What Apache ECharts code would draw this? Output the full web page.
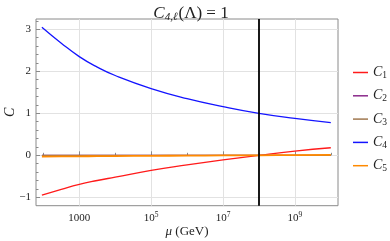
<!DOCTYPE html>
<html><head><meta charset="utf-8">
<script src="https://cdn.jsdelivr.net/npm/echarts@6/dist/echarts.min.js"></script>
<style>html,body{margin:0;padding:0;background:#fff}#c{width:390px;height:241px}</style>
</head><body><div id="c"></div>
<script>
// x values are log10(mu / GeV)
const muExp = [1.96, 2.5, 3, 3.5, 4, 5, 6, 7, 8, 9, 10];
const C1 = [-0.95, -0.81, -0.69, -0.60, -0.52, -0.36, -0.23, -0.11, 0.0, 0.10, 0.18];
const C2 = [0.0, 0.0, 0.0, 0.0, 0.0, 0.0, 0.0, 0.0, 0.0, 0.0, 0.0];
const C3 = [0.0, 0.0, 0.0, 0.0, 0.0, 0.0, 0.0, 0.0, 0.0, 0.0, 0.0];
const C4 = [3.05, 2.67, 2.35, 2.10, 1.90, 1.59, 1.35, 1.16, 1.0, 0.88, 0.78];
const C5 = [-0.03, -0.027, -0.024, -0.021, -0.018, -0.013, -0.008, -0.004, 0.0, 0.004, 0.008];
const seriesNames = ['C1', 'C2', 'C3', 'C4', 'C5'];
const seriesColors = ['#ff1a1a', '#8b2a8b', '#a07850', '#1414ff', '#ff8a00'];
const xMajor = [3, 5, 7, 9];
const xMinor = [2, 4, 6, 8, 10];
const yMajor = [-1, 0, 1, 2, 3];
const yMinor = [-0.8, -0.6, -0.4, -0.2, 0.2, 0.4, 0.6, 0.8, 1.2, 1.4, 1.6, 1.8, 2.2, 2.4, 2.6, 2.8, 3.2];
const matchScale = 8; // log10 of the matching scale (vertical line)

const FONT = 'Liberation Serif';
const XMIN = 1.796, XMAX = 10.2, YMIN = -1.2, YMAX = 3.245;
const allData = [C1, C2, C3, C4, C5];

const chart = echarts.init(document.getElementById('c'), null, {renderer: 'canvas'});
const series = seriesNames.map((n, i) => ({
  name: n, type: 'line', smooth: true, showSymbol: false, symbol: 'none',
  xAxisIndex: 0, yAxisIndex: 0,
  color: seriesColors[i],
  lineStyle: {color: seriesColors[i], width: i === 4 ? 1.8 : 1.3},
  z: i === 4 ? 3 : 2,
  data: muExp.map((x, k) => [x, allData[i][k]])
}));
series[0].markLine = {
  silent: true, symbol: 'none', label: {show: false}, z: 5,
  lineStyle: {color: '#000', width: 1.8, type: 'solid'},
  data: [{xAxis: matchScale}]
};

const axCommonX = {type: 'value', min: XMIN, max: XMAX, position: 'bottom'};
const axCommonY = {type: 'value', min: YMIN, max: YMAX, position: 'left'};
const T = {fontFamily: FONT, color: '#222', fontWeight: 'normal'};

chart.setOption({
  animation: false,
  backgroundColor: '#fff',
  title: {
    text: '{i|C}{s|4,ℓ}{n|(Λ) = 1}',
    left: 186, top: 0, textAlign: 'center',
    textStyle: {
      fontWeight: 'normal', fontFamily: FONT,
      rich: {
        i: Object.assign({}, T, {fontStyle: 'italic', fontSize: 17, lineHeight: 18}),
        s: Object.assign({}, T, {fontStyle: 'italic', fontSize: 11, lineHeight: 18, padding: [7, 1, 0, 0]}),
        n: Object.assign({}, T, {fontSize: 17, lineHeight: 18})
      }
    }
  },
  grid: {left: 36, right: 52, top: 19, bottom: 35.3, show: true, borderColor: '#8a8a8a', borderWidth: 1,
    containLabel: false, outerBoundsMode: 'none'},
  legend: {
    orient: 'vertical', left: 348, top: 59.5, itemWidth: 15, itemHeight: 1.5, itemGap: 7.3,
    icon: 'rect', data: seriesNames,
    formatter: n => '{c|C}{s|' + n.slice(1) + '}',
    textStyle: {
      rich: {
        c: Object.assign({}, T, {fontStyle: 'italic', fontSize: 14, lineHeight: 16}),
        s: Object.assign({}, T, {fontSize: 9.5, lineHeight: 16, padding: [6, 0, 0, 0]})
      }
    }
  },
  xAxis: [
    Object.assign({}, axCommonX, {
      name: '{m|μ} {g|(GeV)}', nameLocation: 'middle', nameGap: 19, nameMoveOverlap: false,
      nameTextStyle: {rich: {
        m: Object.assign({}, T, {fontStyle: 'italic', fontSize: 13}),
        g: Object.assign({}, T, {fontSize: 13})
      }},
      axisLine: {show: false},
      axisTick: {show: true, inside: true, length: 4, customValues: xMajor, lineStyle: {color: '#8a8a8a'}},
      axisLabel: {customValues: xMajor, margin: 5, color: '#222', fontFamily: FONT, fontSize: 11,
        formatter: v => v === 3 ? '{b|1000}' : '{b|10}{p|' + v + '}',
        rich: {
          b: Object.assign({}, T, {fontSize: 11, lineHeight: 14}),
          p: Object.assign({}, T, {fontSize: 7.5, lineHeight: 14, padding: [0, 0, 6, 0]})
        }},
      splitLine: {show: true, lineStyle: {color: '#e2e2e2', width: 1}}
    }),
    Object.assign({}, axCommonX, {
      axisLine: {show: false},
      axisTick: {show: true, inside: true, length: 2.5, customValues: xMinor, lineStyle: {color: '#8a8a8a'}},
      axisLabel: {show: false, customValues: xMinor},
      splitLine: {show: false}
    })
  ],
  yAxis: [
    Object.assign({}, axCommonY, {
      name: 'C', nameLocation: 'middle', nameGap: 19, nameRotate: 90, nameMoveOverlap: false,
      nameTextStyle: Object.assign({}, T, {fontStyle: 'italic', fontSize: 14}),
      axisLine: {show: false},
      axisTick: {show: true, inside: true, length: 4, customValues: yMajor, lineStyle: {color: '#8a8a8a'}},
      axisLabel: {customValues: yMajor, margin: 5, color: '#222', fontFamily: FONT, fontSize: 11,
        formatter: v => v < 0 ? '\u2212' + Math.abs(v) : String(v)},
      splitLine: {show: true, lineStyle: {color: '#e2e2e2', width: 1}}
    }),
    Object.assign({}, axCommonY, {
      axisLine: {show: false},
      axisTick: {show: true, inside: true, length: 2.5, customValues: yMinor, lineStyle: {color: '#8a8a8a'}},
      axisLabel: {show: false, customValues: yMinor},
      splitLine: {show: false}
    })
  ],
  series: series
});
</script></body></html>
